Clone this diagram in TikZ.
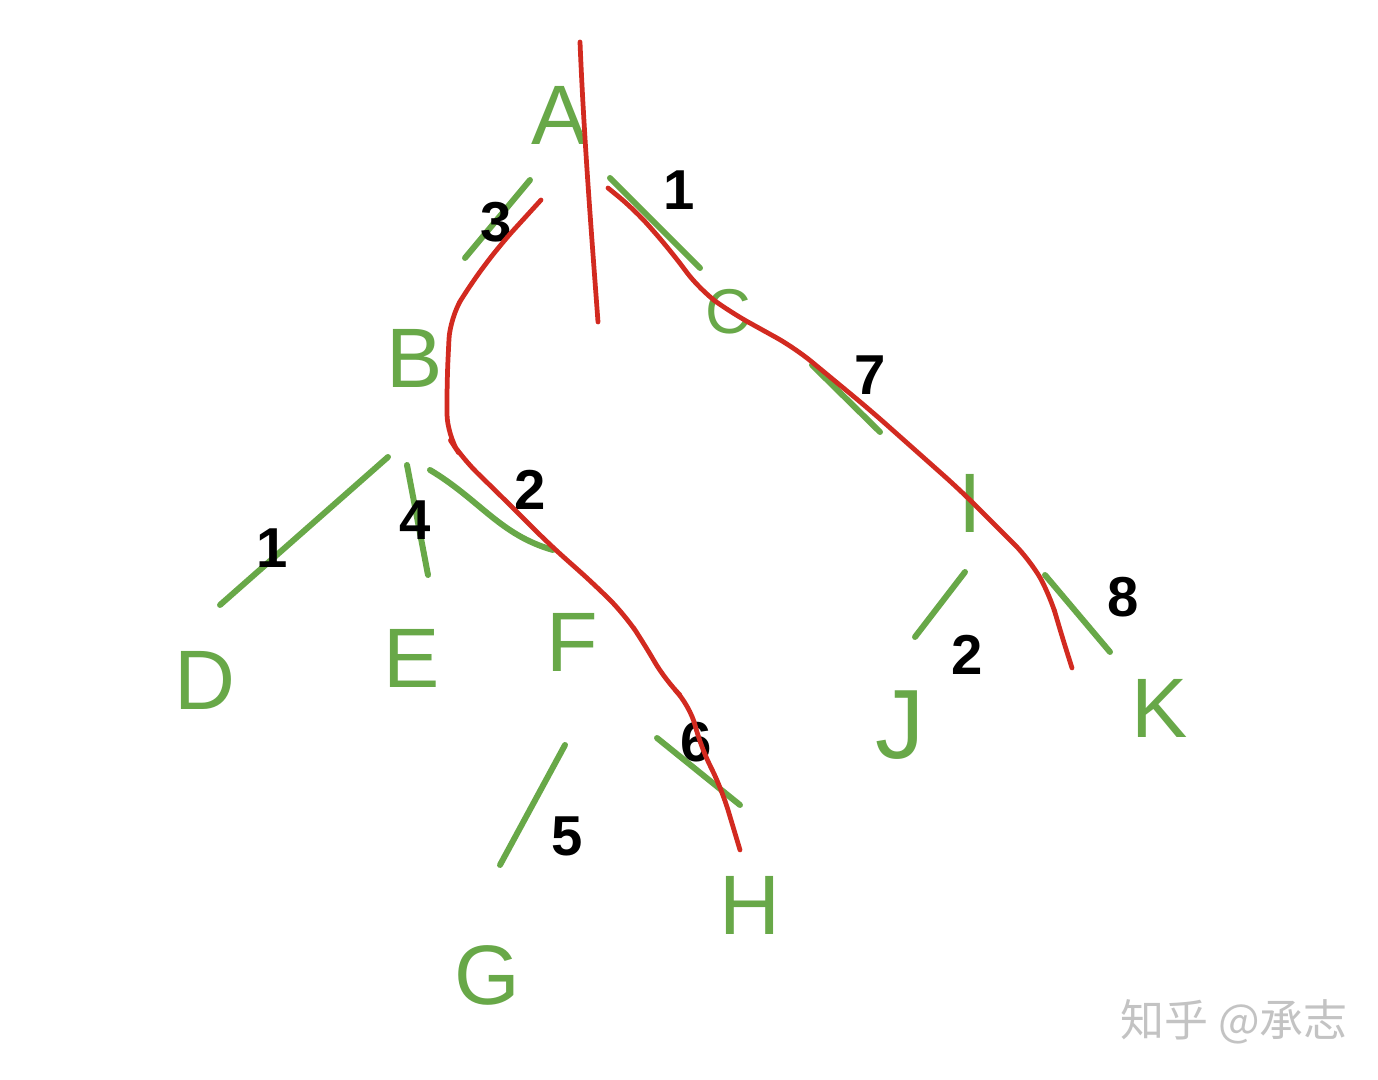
\documentclass[tikz,border=0pt]{standalone}
\usepackage{fontspec}
\setmainfont{Liberation Sans}
\newfontfamily\cjk{Noto Sans CJK SC}
\definecolor{tgreen}{RGB}{104,168,72}
\definecolor{tred}{RGB}{210,42,32}
\definecolor{wm}{RGB}{195,195,195}
\begin{document}
\begin{tikzpicture}[x=0.01cm,y=-0.01cm,
  vert/.style={text=tgreen,font=\fontsize{24}{24}\selectfont,inner sep=0pt},
  wt/.style={text=black,font=\fontsize{16}{16}\selectfont\bfseries,inner sep=0pt},
  gedge/.style={draw=tgreen,line width=1.7pt,line cap=round},
  redpath/.style={draw=tred,line width=1.35pt,line cap=round,line join=round,rounded corners=6pt}]
\useasboundingbox[fill=white] (0,0) rectangle (1378,1080);
% vertices
\node[vert] (A) at (560,115) {A};
\node[vert] (B) at (415,358) {B};
\node[vert,font=\fontsize{18}{18}\selectfont] (C) at (728,312) {C};
\node[vert] (D) at (205,680) {D};
\node[vert] (E) at (412,658) {E};
\node[vert] (F) at (572,642) {F};
\node[vert] (G) at (487,975) {G};
\node[vert] (H) at (750,905) {H};
\node[vert] (I) at (970,503) {I};
\node[vert,font=\fontsize{28}{28}\selectfont] (J) at (900,725) {J};
\node[vert] (K) at (1160,708) {K};
% green edge strokes
\coordinate (ab1) at (465,258); \coordinate (ab2) at (530,180);
\coordinate (ac1) at (610,178); \coordinate (ac2) at (700,268);
\coordinate (ci1) at (812,365); \coordinate (ci2) at (880,432);
\coordinate (bd1) at (388,457); \coordinate (bd2) at (220,605);
\coordinate (be1) at (407,465); \coordinate (be2) at (428,575);
\coordinate (bf1) at (430,470); \coordinate (bf2) at (553,550);
\coordinate (fg1) at (565,745); \coordinate (fg2) at (500,865);
\coordinate (fh1) at (657,738); \coordinate (fh2) at (740,805);
\coordinate (ij1) at (965,572); \coordinate (ij2) at (915,637);
\coordinate (ik1) at (1045,575); \coordinate (ik2) at (1110,652);
\draw[gedge] (ab1) -- (ab2);
\draw[gedge] (ac1) -- (ac2);
\draw[gedge] (ci1) -- (ci2);
\draw[gedge] (bd1) -- (bd2);
\draw[gedge] (be1) -- (be2);
\draw[gedge] (bf1) .. controls (480,500) and (500,535) .. (bf2);
\draw[gedge] (fg1) -- (fg2);
\draw[gedge] (fh1) -- (fh2);
\draw[gedge] (ij1) -- (ij2);
\draw[gedge] (ik1) -- (ik2);
% weights
\node[wt] (w1) at (496,222) {3};
\node[wt] (w2) at (679,190) {1};
\node[wt] (w3) at (870,375) {7};
\node[wt] (w4) at (272,548) {1};
\node[wt] (w5) at (415,520) {4};
\node[wt] (w6) at (530,490) {2};
\node[wt] (w7) at (567,836) {5};
\node[wt] (w8) at (696,742) {6};
\node[wt] (w9) at (967,655) {2};
\node[wt] (w10) at (1123,597) {8};
% red paths
\coordinate (r1s) at (580,42); \coordinate (r1e) at (598,322);
\draw[redpath] (r1s) .. controls (584,140) and (592,240) .. (r1e);
\coordinate (r2s) at (541,200); \coordinate (r2e) at (740,850);
\draw[redpath] (r2s) -- (500,245) -- (470,285) -- (450,318) -- (447,380) -- (447,435)
  -- (462,458) -- (505,500) -- (550,545) -- (595,585) -- (625,615) -- (645,645)
  -- (665,680) -- (690,705) -- (700,745) -- (722,790) -- (r2e);
\coordinate (r3s) at (608,188); \coordinate (r3e) at (1072,668);
\draw[redpath] (r3s) -- (635,210) -- (670,250) -- (700,290) -- (730,312) -- (795,348)
  -- (870,410) -- (960,490) -- (1030,560) -- (1050,595) -- (1060,630) -- (r3e);
% watermark
\node[text=wm,font=\cjk\fontsize{12.5}{12.5}\selectfont,inner sep=0pt] (wmk) at (1234,1022) {知乎 @承志};
\end{tikzpicture}
\end{document}
